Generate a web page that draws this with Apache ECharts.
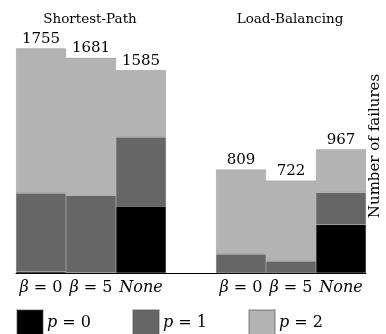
<!DOCTYPE html>
<html><head><meta charset="utf-8">
<script src="https://cdn.jsdelivr.net/npm/echarts@6/dist/echarts.min.js"></script>
<style>html,body{margin:0;padding:0;background:#fff}#c{width:386px;height:334px}</style>
</head><body><div id="c"></div>
<script>
const categories = ['b0', 'b5', 'none', '', 'b0', 'b5', 'none'];
const p0 = [10, 5, 522, null, 0, 0, 377];
const p1 = [614, 600, 539, null, 146, 91, 252];
const p2 = [1131, 1076, 524, null, 663, 631, 338];
const totals = [1755, 1681, 1585, null, 809, 722, 967];
const groupTitles = ['Shortest-Path', 'Load-Balancing'];
const seriesNames = ['p = 0', 'p = 1', 'p = 2'];

const serif = 'DejaVu Serif';
const colors = ['#000000', '#666666', '#b3b3b3'];
const chart = echarts.init(document.getElementById('c'));
const catLabel = {b0: '{i|β}{n| = 0}', b5: '{i|β}{n| = 5}', none: '{i|None}', '': ''};
const rich = {
  i: {fontFamily: serif, fontStyle: 'italic', fontSize: 16, color: '#000'},
  n: {fontFamily: serif, fontSize: 16, color: '#000'}
};
function mkSeries(idx, data) {
  const s = {
    name: seriesNames[idx], type: 'bar', stack: 'a', data: data,
    barWidth: '100%', barGap: '0%',
    itemStyle: {color: colors[idx], borderColor: 'rgba(80,80,80,0.35)', borderWidth: 0.5},
    emphasis: {disabled: true}
  };
  if (idx === 2) {
    s.label = {show: true, position: 'top', distance: 2, fontFamily: serif, fontSize: 15, color: '#000',
      formatter: p => totals[p.dataIndex] == null ? '' : String(totals[p.dataIndex])};
  }
  return s;
}
const legendLefts = [16, 132, 248];
const titleX = [90, 290];
chart.setOption({
  animation: false,
  grid: {left: 16, right: 20, top: 17, bottom: 61},
  legend: seriesNames.map((n, k) => ({
    data: [n], left: legendLefts[k], top: 309, padding: 0, itemWidth: 26, itemHeight: 25, itemGap: 0,
    icon: 'rect', selectedMode: false,
    formatter: name => '{i|p}{n|' + name.slice(1) + '}',
    textStyle: {rich: rich, padding: [0, 0, 0, -1]}
  })),
  xAxis: {
    type: 'category', data: categories,
    axisLine: {lineStyle: {color: '#000', width: 1}},
    axisTick: {show: false},
    axisLabel: {interval: 0, margin: 7, formatter: v => catLabel[v], rich: rich}
  },
  yAxis: {type: 'value', min: 0, max: 2000, show: false},
  graphic: [{
    type: 'text', x: 375, y: 146, rotation: Math.PI / 2,
    style: {text: 'Number of failures', fontFamily: serif, fontSize: 15, fill: '#000', align: 'center', verticalAlign: 'middle'}
  }].concat(groupTitles.map((t, k) => ({
    type: 'text', x: titleX[k], y: 19,
    style: {text: t, fontFamily: serif, fontSize: 13.5, fill: '#000', align: 'center', verticalAlign: 'middle'}
  }))),
  series: [mkSeries(0, p0), mkSeries(1, p1), mkSeries(2, p2)]
});
</script></body></html>
